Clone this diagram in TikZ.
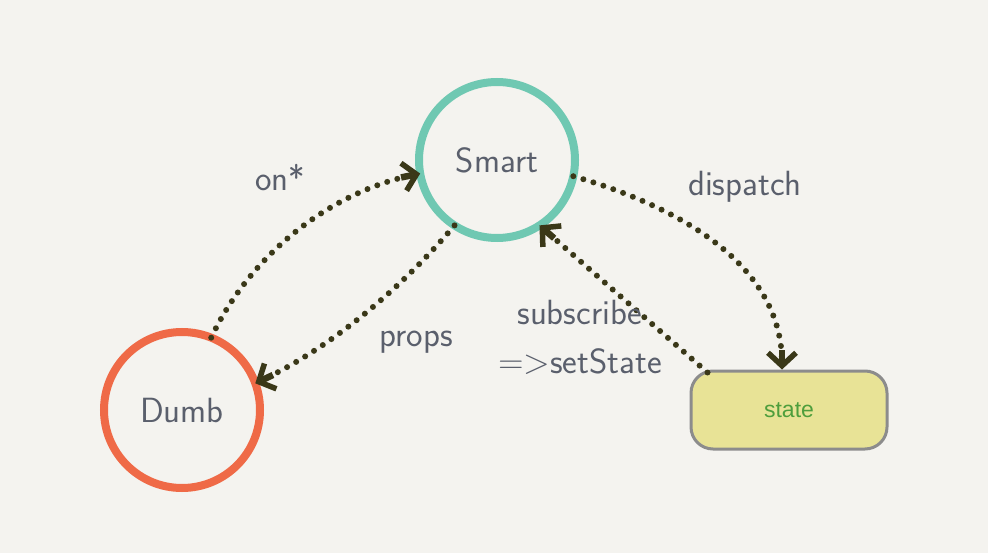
\documentclass[tikz,border=0pt]{standalone}
\usepackage{fontspec}
\newfontfamily\statefont{Liberation Sans}
\usetikzlibrary{arrows.meta}
\definecolor{bg}{HTML}{F4F3EF}
\definecolor{smartc}{HTML}{6FC8B2}
\definecolor{dumbc}{HTML}{EF6A47}
\definecolor{arrowc}{HTML}{3A3818}
\definecolor{txtc}{HTML}{5A5F6C}
\definecolor{statefill}{HTML}{E8E396}
\definecolor{stateborder}{HTML}{8C8C8C}
\definecolor{statetxt}{HTML}{4E9E3C}
\tikzset{
  comp/.style={circle, line width=8pt, minimum size=156pt, inner sep=0pt, outer sep=0pt, text=txtc, font=\sffamily\fontsize{35}{37}\selectfont},
  flow/.style={arrowc, line width=6pt, line cap=round, dash pattern=on 0pt off 10.5pt,
    -{Rectangle[length=12pt, width=5.5pt, sep=-12pt] Straight Barb[length=13pt, width=28pt, line width=5.5pt]}},
  lbl/.style={text=txtc, font=\sffamily\fontsize{35}{37}\selectfont, inner sep=0pt},
  storebox/.style={rectangle, rounded corners=22pt, fill=statefill, draw=stateborder, line width=3pt,
    minimum width=196pt, minimum height=78pt, text=statetxt, font=\statefont\fontsize{23}{24}\selectfont}
}
\begin{document}
\begin{tikzpicture}[x=1pt, y=-1pt]
\fill[bg] (0,0) rectangle (988,553);
\useasboundingbox (0,0) rectangle (988,553);
\node[comp, draw=smartc] (smart) at (497,160) {Smart};
\node[comp, draw=dumbc] (dumb) at (182,410) {Dumb};
\node[storebox] (state) at (789,410) {state};
\draw[flow] (dumb.68) .. controls (250,255) and (330,192) .. (smart.190);
\draw[flow] (smart.237) .. controls (400,290) and (330,348) .. (dumb.20);
\draw[flow] (smart.348) .. controls (690,210) and (782,270) .. ([xshift=-7pt]state.north);
\draw[flow] ([xshift=18pt,yshift=-3pt]state.north west) -- (smart.303);
\node[lbl] (lon) at (280,178) {on*};
\node[lbl] (ldisp) at (745,187) {dispatch};
\node[lbl] (lprops) at (416,342) {props};
\node[lbl] (lsub) at (580,312) {subscribe};
\node[lbl] (lset) at (580,362) {=>setState};
\end{tikzpicture}
\end{document}
